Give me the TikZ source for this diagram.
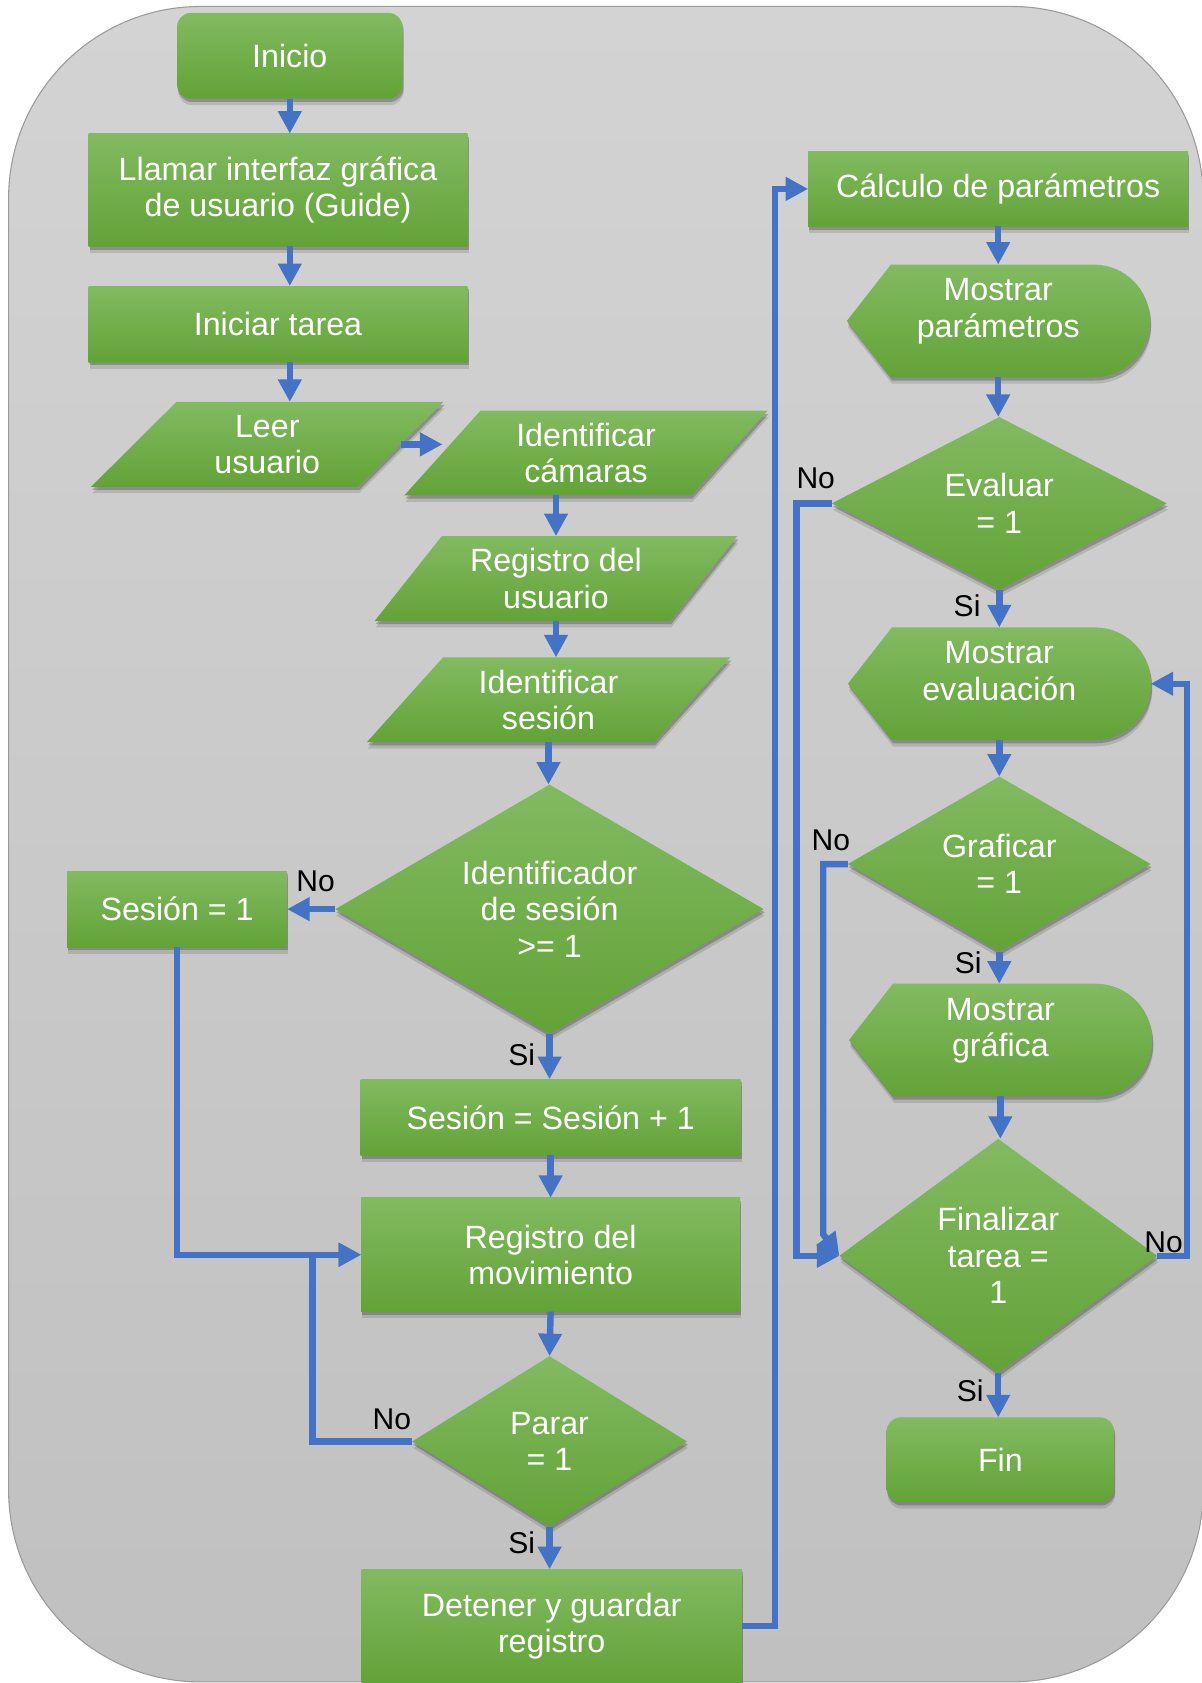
\documentclass[tikz,border=0pt]{standalone}
\usepackage{fontspec}
\setmainfont{Liberation Sans}
\usetikzlibrary{shapes.geometric,shadows,calc,arrows.meta}
\definecolor{verdearr}{RGB}{130,186,97}
\definecolor{verdeab}{RGB}{98,163,55}
\definecolor{azul}{RGB}{68,114,196}
\definecolor{grisarr}{RGB}{211,211,211}
\definecolor{grisab}{RGB}{192,192,192}
\definecolor{grisbor}{RGB}{155,155,155}
\pgfdeclarelayer{fondo}
\pgfsetlayers{fondo,main}

\begin{document}
\begin{tikzpicture}[x=1pt,y=-1pt,
    sombra/.style={drop shadow={shadow xshift=1pt,shadow yshift=-6pt,opacity=0.12,fill=black},
      drop shadow={shadow xshift=1pt,shadow yshift=-3pt,opacity=0.22,fill=black}},
    caja/.style={rectangle,top color=verdearr,bottom color=verdeab,text=white,align=center,
      inner sep=0pt,outer sep=0pt,font=\fontsize{30}{34}\selectfont,sombra},
    term/.style={caja,rounded corners=13pt},
    es/.style={caja,trapezium,trapezium left angle=50,trapezium right angle=130,
      trapezium stretches=true,minimum width=339pt,minimum height=79pt},
    decis/.style={caja,diamond},
    pant/.style={text=white,align=center,inner sep=0pt,outer sep=0pt,
      font=\fontsize{30}{34}\selectfont,minimum width=282pt,minimum height=105pt,text depth=24pt},
    flecha/.style={azul,line width=6pt,-{Triangle[length=21pt,width=21pt]}},
    etq/.style={font=\fontsize{28}{30}\selectfont,inner sep=0pt}]

  \useasboundingbox (0,0) rectangle (1119,1568);
  \begin{pgfonlayer}{fondo}
    \shade[top color=grisarr,bottom color=grisab,draw=grisbor,line width=1pt,rounded corners=179pt]
      (8,6) rectangle (1121,1567);
  \end{pgfonlayer}

  % columna izquierda
  \node[term,minimum width=210pt,minimum height=80pt] (ini) at (270,52) {Inicio};
  \node[caja,minimum width=353pt,minimum height=105pt] (llam) at (259,177) {Llamar interfaz gráfica\\de usuario (Guide)};
  \node[caja,minimum width=353pt,minimum height=71pt] (itar) at (259,302) {Iniciar tarea};
  \node[es,minimum width=329pt] (leer) at (249,414) {Leer\\usuario};
  \node[es] (icam) at (546,422) {Identificar\\cámaras};
  \node[es] (rusu) at (518,539) {Registro del\\usuario};
  \node[es] (ises) at (511,652) {Identificar\\sesión};
  \node[decis,aspect=1.72,minimum width=399pt,minimum height=232pt] (dses) at (512,847) {Identificador\\de sesión\\>= 1};
  \node[caja,minimum width=205pt,minimum height=71pt] (ses1) at (165,847) {Sesión = 1};
  \node[caja,minimum width=354pt,minimum height=71pt] (sesp) at (513,1041) {Sesión = Sesión + 1};
  \node[caja,minimum width=353pt,minimum height=106pt] (rmov) at (513,1169) {Registro del\\movimiento};
  \node[decis,aspect=1.61,minimum width=256pt,minimum height=159pt] (parar) at (512,1343) {Parar\\= 1};
  \node[caja,minimum width=354pt,minimum height=106pt] (det) at (514,1515) {Detener y guardar\\registro};

  % columna derecha
  \node[caja,minimum width=354pt,minimum height=70pt] (calc) at (930,176) {Cálculo de parámetros};
  \node[pant] (mpar) at (930,299) {Mostrar\\parámetros};
  \node[decis,aspect=1.94,minimum width=312pt,minimum height=161pt] (eval) at (931,469) {Evaluar\\= 1};
  \node[pant] (meva) at (931,637) {Mostrar\\evaluación};
  \node[decis,aspect=1.73,minimum width=282pt,minimum height=163pt] (graf) at (931,805) {Graficar\\= 1};
  \node[pant] (mgra) at (932,969) {Mostrar\\gráfica};
  \node[decis,aspect=1.36,minimum width=296pt,minimum height=218pt] (fina) at (930,1170) {Finalizar\\tarea =\\1};
  \node[term,minimum width=212pt,minimum height=79pt] (fin) at (932,1360) {Fin};

  \begin{pgfonlayer}{fondo}
    \foreach \p in {mpar,meva,mgra}
      \shade[top color=verdearr,bottom color=verdeab,sombra] (\p.west) -- ($(\p.north west)+(41,0)$)
        -- ($(\p.north east)+(-52,0)$) arc[start angle=90,end angle=-90,radius=52.5pt]
        -- ($(\p.south west)+(41,0)$) -- cycle;
  \end{pgfonlayer}

  \draw[flecha] (ini.south) -- (ini.south |- llam.north);
  \draw[flecha] (ini.south |- llam.south) -- (ini.south |- itar.north);
  \draw[flecha] (ini.south |- itar.south) -- (ini.south |- leer.north);
  \draw[flecha] (leer.east) -- (leer.east -| icam.west);
  \draw[flecha] (rusu.north |- icam.south) -- (rusu.north);
  \draw[flecha] (rusu.south) -- (rusu.south |- ises.north);
  \draw[flecha] (ises.south) -- (ises.south |- dses.north);
  \draw[flecha] (dses.west) -- (ses1.east);
  \draw[flecha] (dses.south) -- (dses.south |- sesp.north);
  \draw[flecha] (sesp.south) -- (rmov.north);
  \draw[flecha] (ses1.south) |- (rmov.west);
  \draw[flecha] (rmov.south) -- (parar.north);
  \draw[flecha] (parar.west) -- ++(-93,0) |- (rmov.west);
  \draw[flecha] (parar.south) -- (parar.south |- det.north);
  \draw[flecha] (det.east) -- ++(31,0) |- (calc.west);
  \draw[flecha] (calc.south) -- (mpar.north);
  \draw[flecha] (mpar.south) -- (mpar.south |- eval.north);
  \draw[flecha] (eval.west) -- ++(-33,0) |- (fina.west);
  \draw[flecha] (eval.south) -- (eval.south |- meva.north);
  \draw[flecha] (meva.south) -- (meva.south |- graf.north);
  \draw[flecha] (graf.west) -- ++(-23,0) -- ++(0,345) -- (fina.west);
  \draw[flecha] (graf.south) -- (graf.south |- mgra.north);
  \draw[flecha] (mgra.south) -- (mgra.south |- fina.north);
  \draw[flecha] (fina.east) -- ++(28,0) |- (meva.east);
  \draw[flecha] (fina.south) -- (fina.south |- fin.north);

  \node[etq] (no1) at (294,821) {No};
  \node[etq] (si1) at (486,983) {Si};
  \node[etq] (no2) at (365,1322) {No};
  \node[etq] (si2) at (486,1437) {Si};
  \node[etq] (no3) at (760,446) {No};
  \node[etq] (si3) at (901,564) {Si};
  \node[etq] (no4) at (774,783) {No};
  \node[etq] (si4) at (902,897) {Si};
  \node[etq] (no5) at (1084,1157) {No};
  \node[etq] (si5) at (904,1296) {Si};
\end{tikzpicture}
\end{document}
